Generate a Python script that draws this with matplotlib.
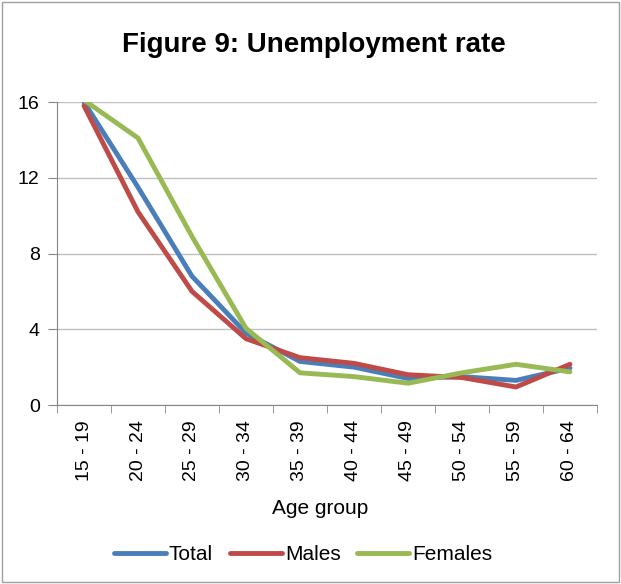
import matplotlib.pyplot as plt
import numpy as np

plt.rcParams['font.family'] = ['Liberation Sans', 'DejaVu Sans']

# Data
age_groups = ['15 - 19', '20 - 24', '25 - 29', '30 - 34', '35 - 39',
              '40 - 44', '45 - 49', '50 - 54', '55 - 59', '60 - 64']
total = [16.0, 11.5, 6.8, 3.8, 2.3, 2.0, 1.4, 1.5, 1.3, 1.95]
males = [15.8, 10.2, 6.0, 3.5, 2.5, 2.2, 1.6, 1.45, 0.95, 2.15]
females = [16.1, 14.1, 8.9, 4.05, 1.7, 1.5, 1.15, 1.7, 2.15, 1.75]

fig = plt.figure(figsize=(6.21, 5.84), dpi=100)
ax = fig.add_axes([0.0918, 0.3065, 0.8695, 0.5188])

x = np.arange(len(age_groups))
ax.plot(x, total, color='#4a7ebb', linewidth=3.5, label='Total', solid_capstyle='round')
ax.plot(x, males, color='#be4b48', linewidth=3.5, label='Males', solid_capstyle='round')
ax.plot(x, females, color='#98b954', linewidth=3.5, label='Females', solid_capstyle='round')

ax.set_xlim(-0.5, len(age_groups) - 0.5)
ax.set_ylim(0, 16)
ax.set_yticks([0, 4, 8, 12, 16])
ax.grid(axis='y', color='#c0c0c0', linewidth=1)
ax.set_axisbelow(True)

ax.set_xticks(x)
ax.set_xticklabels(age_groups, rotation=90, fontsize=14)
ax.tick_params(axis='x', which='major', length=0, pad=11)
ax.set_xticks(np.arange(-0.5, len(age_groups)), minor=True)
ax.tick_params(axis='x', which='minor', length=5.5, color='#868686', direction='out')
ax.tick_params(axis='y', length=6.5, color='#868686', labelsize=14, pad=6)

for side in ['top', 'right']:
    ax.spines[side].set_visible(False)
for side in ['left', 'bottom']:
    ax.spines[side].set_color('#868686')

ax.set_xlabel('Age group', fontsize=15)
ax.xaxis.set_label_coords(0.487, -0.31)
fig.text(0.506, 0.923, 'Figure 9: Unemployment rate', ha='center', va='center',
         fontsize=20, fontweight='bold')

handles, labels = ax.get_legend_handles_labels()
fig.legend(handles, labels, loc='center', bbox_to_anchor=(0.488, 0.05), ncol=3,
           frameon=False, fontsize=15, handlelength=2.5, handletextpad=0.15,
           columnspacing=0.8)

# outer border
fig.patches.append(plt.Rectangle((0.003, 0.003), 0.994, 0.994, transform=fig.transFigure,
                                 fill=False, edgecolor='#a0a0a0', linewidth=1))

fig.savefig('out.png', dpi=100)
